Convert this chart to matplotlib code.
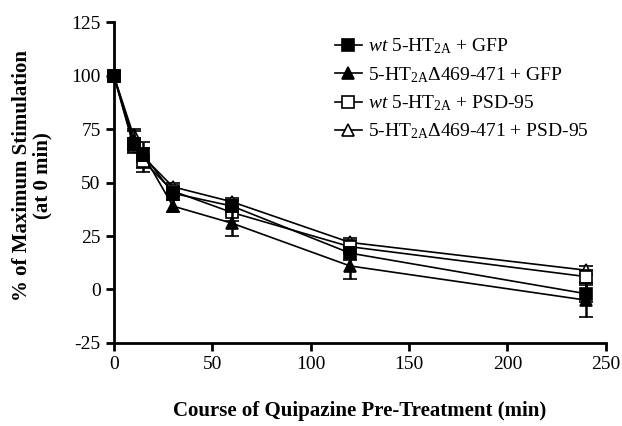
import numpy as np
import matplotlib.pyplot as plt
from matplotlib.lines import Line2D

plt.rcParams['font.family'] = ['Liberation Serif', 'DejaVu Serif']
plt.rcParams['mathtext.fontset'] = 'custom'
plt.rcParams['mathtext.rm'] = 'Liberation Serif'
plt.rcParams['mathtext.it'] = 'Liberation Serif:italic'
plt.rcParams['axes.unicode_minus'] = False

# time points (min)
time = [0, 10, 15, 30, 60, 120, 240]

wt_gfp = [100, 68, 63, 45, 39, 17, -2]
wt_gfp_err = [2, 3, 3, 3, 3, 3, 4]
mut_gfp = [100, 70, 63, 39, 31, 11, -5]
mut_gfp_err = [2, 4, 3, 3, 6, 6, 8]
wt_psd = [100, 67, 60, 46, 36, 20, 6]
wt_psd_err = [2, 3, 3, 2, 4, 3, 3]
mut_psd = [100, 72, 62, 48, 41, 22, 9]
mut_psd_err = [2, 3, 7, 2, 2, 2, 2]

labels = [r'$\it{wt}$ 5-HT$_{\rm 2A}$ + GFP',
          r'5-HT$_{\rm 2A}$Δ469-471 + GFP',
          r'$\it{wt}$ 5-HT$_{\rm 2A}$ + PSD-95',
          r'5-HT$_{\rm 2A}$Δ469-471 + PSD-95']

fig = plt.figure(figsize=(6.22, 4.26), dpi=100)
ax = fig.add_axes([0.183, 0.195, 0.791, 0.753])

series = [(wt_gfp, wt_gfp_err, 's', 'black', 6),
          (mut_gfp, mut_gfp_err, '^', 'black', 5),
          (wt_psd, wt_psd_err, 's', 'white', 4),
          (mut_psd, mut_psd_err, '^', 'white', 3)]

handles = []
for (vals, err, mk, fc, z), lab in zip(series, labels):
    ax.errorbar(time, vals, yerr=err, marker=mk, markersize=8, mfc=fc,
                mec='black', mew=1.2, color='black', lw=1.2, ecolor='black',
                elinewidth=1.8, capsize=5, capthick=1.8, zorder=z,
                clip_on=False)
    handles.append(Line2D([], [], color='black', lw=1.2, marker=mk,
                          markersize=8, mfc=fc, mec='black', mew=1.2,
                          label=lab))

ax.set_xlim(0, 250)
ax.set_ylim(-25, 125)
ax.set_xticks([0, 50, 100, 150, 200, 250])
ax.set_yticks([-25, 0, 25, 50, 75, 100, 125])
ax.spines['top'].set_visible(False)
ax.spines['right'].set_visible(False)
ax.spines['left'].set_linewidth(2)
ax.spines['bottom'].set_linewidth(2)
ax.tick_params(width=2, length=6, labelsize=14, direction='out')

ax.set_xlabel('Course of Quipazine Pre-Treatment (min)', fontsize=15,
              fontweight='bold', labelpad=20)
ax.set_ylabel('% of Maximum Stimulation\n(at 0 min)', fontsize=15,
              fontweight='bold', linespacing=1.0)
ax.yaxis.set_label_coords(-0.125, 0.523)

ax.legend(handles=handles, loc='upper right', bbox_to_anchor=(1.0, 1.01),
          frameon=False, fontsize=14, handlelength=1.4, handletextpad=0.3,
          labelspacing=0.45)

fig.savefig('out.png', dpi=100)
